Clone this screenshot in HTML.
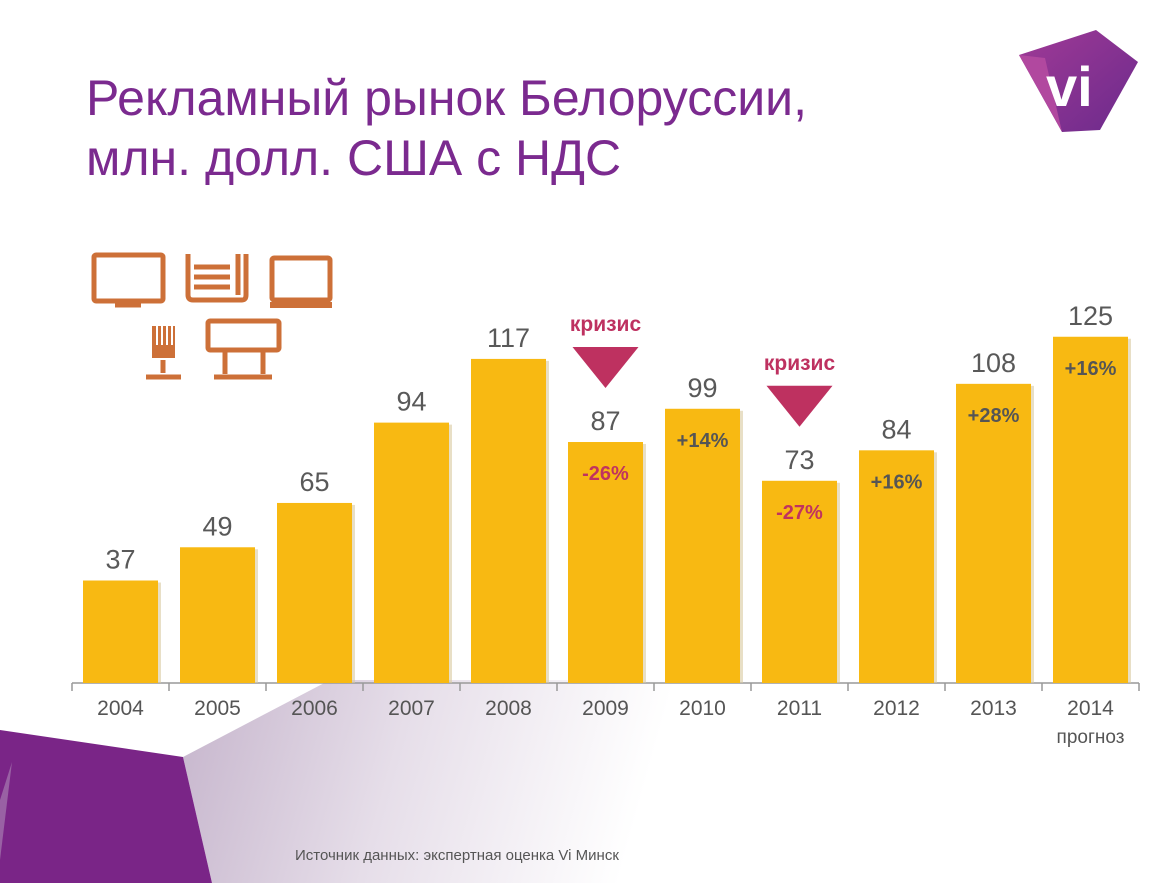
<!DOCTYPE html>
<html><head><meta charset="utf-8"><style>
html,body{margin:0;padding:0;background:#fff;width:1176px;height:883px;overflow:hidden;font-family:"Liberation Sans","DejaVu Sans",sans-serif;}
svg{display:block}
</style></head><body>
<svg width="1176" height="883" viewBox="0 0 1176 883">
<defs>
<linearGradient id="wedge" x1="183" y1="757" x2="620" y2="880" gradientUnits="userSpaceOnUse">
<stop offset="0" stop-color="#c9b9cf"/><stop offset="0.45" stop-color="#e6dee9"/><stop offset="1" stop-color="#ffffff"/>
</linearGradient>
<linearGradient id="logo" x1="0" y1="0" x2="1" y2="1">
<stop offset="0" stop-color="#a03a96"/><stop offset="1" stop-color="#6b2a8c"/>
</linearGradient>
</defs>
<g>
<polygon points="183,757 330,680 900,680 650,883 212,883" fill="url(#wedge)"/>
<polygon points="0,730 183,757 212,883 0,883" fill="#7a2587"/>
<polygon points="0,860 12,762 0,800" fill="#a77ab0" opacity="0.7"/>
</g>
<g fill="#7b2a8f" font-size="50">
<text x="86" y="115">Рекламный рынок Белоруссии,</text>
<text x="86" y="175">млн. долл. США с НДС</text>
</g>
<g>
<polygon points="1019,55 1096,30 1138,62 1100,130 1062,132" fill="url(#logo)"/>
<polygon points="1019,55 1045,58 1062,132" fill="#b1489f"/>
<text x="1046" y="106" font-size="56" font-weight="bold" fill="#fff">vi</text>
</g>
<g stroke="#cd7038" fill="none" stroke-width="5">
<rect x="94" y="255" width="69" height="46" rx="2"/>
<line x1="115" y1="305" x2="141" y2="305"/>
<path d="M188,254 V295 Q188,300 193,300 H242 Q246,300 246,295 V254 M238,254 V295"/>
<line x1="194" y1="267" x2="230" y2="267"/><line x1="194" y1="277" x2="230" y2="277"/><line x1="194" y1="287" x2="230" y2="287"/>
<rect x="272" y="258" width="58" height="42" rx="2"/>
<line x1="270" y1="305" x2="332" y2="305" stroke-width="6"/>
<rect x="152" y="326" width="23" height="32" fill="#cd7038" stroke="none"/>
<g stroke="#fff" stroke-width="2"><line x1="157" y1="326" x2="157" y2="345"/><line x1="162" y1="326" x2="162" y2="345"/><line x1="167" y1="326" x2="167" y2="345"/><line x1="172" y1="326" x2="172" y2="345"/></g>
<line x1="163" y1="360" x2="163" y2="373"/>
<line x1="146" y1="377" x2="181" y2="377"/>
<rect x="208" y="321" width="71" height="29" rx="2"/>
<line x1="225" y1="352" x2="225" y2="374"/><line x1="263" y1="352" x2="263" y2="374"/>
<line x1="214" y1="377" x2="272" y2="377"/>
</g>
<g id="chart"></g>
<text x="295" y="860" font-size="15" fill="#555">Источник данных: экспертная оценка Vi Минск</text>
</svg>
<script>
const categories=["2004","2005","2006","2007","2008","2009","2010","2011","2012","2013","2014"];
const values=[37,49,65,94,117,87,99,73,84,108,125];
const changes=["","","","","","-26%","+14%","-27%","+16%","+28%","+16%"];
const crisisYears=["2009","2011"];
const NS="http://www.w3.org/2000/svg";
const g=document.getElementById("chart");
const baseY=683,left=72,step=97,barW=75,scale=2.77;
function xC(i){return left+step*i+step/2;}
function yV(v){return baseY-v*scale;}
function mk(tag,attrs,parent){const e=document.createElementNS(NS,tag);for(const k in attrs)e.setAttribute(k,attrs[k]);(parent||g).appendChild(e);return e;}
const axis=mk("line",{x1:left,y1:baseY,x2:left+step*categories.length,y2:baseY,stroke:"#999","stroke-width":1.5});


for(let i=0;i<=categories.length;i++){
 const t=mk("line",{x1:left+step*i,y1:baseY,x2:left+step*i,y2:baseY+8,stroke:"#999","stroke-width":1.5});
 
 
}
categories.forEach((c,i)=>{
 const x=xC(i),y=yV(values[i]);
 const sh=mk("rect",{x:x-barW/2+3,y:y+2,width:barW,height:baseY-y-2,fill:"#d9c9a0",opacity:0.6});
 
 
 const b=mk("rect",{x:x-barW/2,y:y,width:barW,height:baseY-y,fill:"#f8b912"});
 
 
 const v=mk("text",{x:x,y:y-12,"text-anchor":"middle","font-size":27,fill:"#595959"});
 v.textContent=values[i];
 
 
 const l=mk("text",{x:x,y:baseY+32,"text-anchor":"middle","font-size":21,fill:"#555"});
 l.textContent=c;
 
 
 if(changes[i]){
  const p=mk("text",{x:x,y:y+38,"text-anchor":"middle","font-size":20,"font-weight":"bold",fill:changes[i][0]=="-"?"#c0335f":"#555"});
  p.textContent=changes[i];
  
  
 }
 if(crisisYears.includes(c)){
  const tr=mk("polygon",{points:`${x-33},${y-95} ${x+33},${y-95} ${x},${y-54}`,fill:"#be3160"});
  
  
  const ct=mk("text",{x:x,y:y-111,"text-anchor":"middle","font-size":21,"font-weight":"bold",fill:"#be3160"});
  ct.textContent="кризис";
  
  
 }
});
const f=mk("text",{x:xC(10),y:baseY+60,"text-anchor":"middle","font-size":19,fill:"#555"});
f.textContent="прогноз";


</script>
</body></html>
